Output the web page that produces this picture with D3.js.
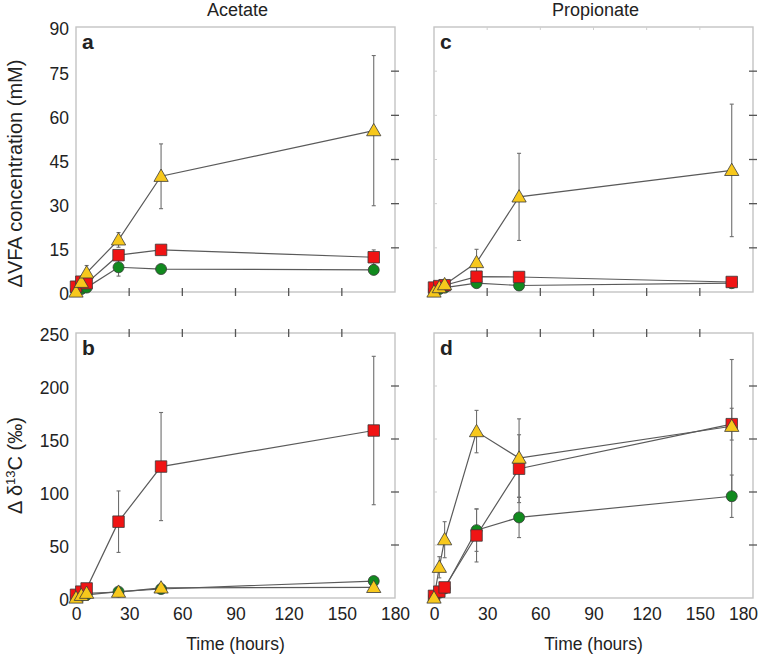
<!DOCTYPE html>
<html><head><meta charset="utf-8">
<script src="https://cdn.jsdelivr.net/npm/d3@7"></script>
<style>
html,body{margin:0;padding:0;background:#fff;}
text{font-family:"Liberation Sans",Arial,Helvetica,sans-serif;fill:#222;}
</style></head>
<body>
<svg id="chart" width="759" height="656"></svg>
<script>
// ---- data ----
const times = [0, 3, 6, 24, 48, 168];
const xTicks = [0, 30, 60, 90, 120, 150, 180];
const vfaTicks = [0, 15, 30, 45, 60, 75, 90];
const isoTicks = [0, 50, 100, 150, 200, 250];
const columnTitles = ["Acetate", "Propionate"];
const panelLetters = ["a", "b", "c", "d"];
const vfaLabel = "ΔVFA concentration (mM)";
const timeLabel = "Time (hours)";

// panel a: acetate ΔVFA
const aCircle = [0.5, 1, 1.5, 8.4, 7.8, 7.5];
const aCircleErr = [0, 0.5, 0.5, 3, 1, 1];
const aSquare = [1.8, 3.5, 3, 12.5, 14.3, 11.8];
const aSquareErr = [0.3, 0.5, 1, 1.5, 1, 2.5];
const aTriangle = [0, 3.3, 6.5, 17.7, 39.3, 54.8];
const aTriangleErr = [0, 0.5, 2.5, 2.5, 11, 25.5];
// panel b: acetate Δδ13C
const bCircle = [1, 2, 3, 6, 8.5, 16];
const bCircleErr = [0, 0.5, 0.5, 1, 1, 2];
const bSquare = [3, 6, 9, 72, 124, 158];
const bSquareErr = [1, 1, 2, 29, 51, 70];
const bTriangle = [0, 2.5, 4.5, 5.5, 9.5, 10];
const bTriangleErr = [0, 0.5, 0.5, 1, 1, 1];
// panel c: propionate ΔVFA
const cCircle = [0.5, 1, 1.5, 3, 2.2, 3];
const cCircleErr = [0, 0.2, 0.2, 0.5, 0.5, 0.5];
const cSquare = [1.5, 2, 2.3, 5.2, 5.1, 3.4];
const cSquareErr = [0.3, 0.3, 0.3, 0.8, 0.8, 0.8];
const cTriangle = [0, 1.5, 2.5, 10, 32.3, 41.3];
const cTriangleErr = [0, 0.3, 0.5, 4.5, 14.8, 22.5];
// panel d: propionate Δδ13C
const dCircle = [1, 5, 9, 64, 76, 96];
const dCircleErr = [0, 1, 2, 20, 19, 20];
const dSquare = [2, 6, 10, 59, 122, 164];
const dSquareErr = [0.5, 1, 2, 25, 32, 15];
const dTriangle = [0, 29, 55, 157, 132, 162];
const dTriangleErr = [0, 10, 17, 20, 37, 63];

// ---- layout ----
const svg = d3.select("#chart");
const PW = 319, PH = 265;
const colX = [76, 434];
const rowY = [27, 333];
const markerStyle = {
  circle:   {fill: "#118a1e", sym: d3.symbolCircle, size: 95},
  square:   {fill: "#f01414", sym: d3.symbolSquare, size: 132},
  triangle: {fill: "#f7c81c", sym: d3.symbolTriangle, size: 88}
};

const panels = [
  {letter: panelLetters[0], col: 0, row: 0, yMax: 90, yTicks: vfaTicks,
   series: [["circle", aCircle, aCircleErr], ["square", aSquare, aSquareErr], ["triangle", aTriangle, aTriangleErr]]},
  {letter: panelLetters[1], col: 0, row: 1, yMax: 250, yTicks: isoTicks,
   series: [["circle", bCircle, bCircleErr], ["square", bSquare, bSquareErr], ["triangle", bTriangle, bTriangleErr]]},
  {letter: panelLetters[2], col: 1, row: 0, yMax: 90, yTicks: vfaTicks,
   series: [["circle", cCircle, cCircleErr], ["square", cSquare, cSquareErr], ["triangle", cTriangle, cTriangleErr]]},
  {letter: panelLetters[3], col: 1, row: 1, yMax: 250, yTicks: isoTicks,
   series: [["circle", dCircle, dCircleErr], ["square", dSquare, dSquareErr], ["triangle", dTriangle, dTriangleErr]]}
];

panels.forEach(p => {
  const x0 = colX[p.col], y0 = rowY[p.row];
  const x = d3.scaleLinear().domain([0, 180]).range([x0, x0 + PW]);
  const y = d3.scaleLinear().domain([0, p.yMax]).range([y0 + PH, y0]);
  const g = svg.append("g");
  const innerX = xTicks.slice(1, -1);
  const innerY = p.yTicks.slice(1, -1);

  // frame
  g.append("rect").attr("x", x0).attr("y", y0).attr("width", PW).attr("height", PH)
    .attr("fill", "none").attr("stroke", "#c4c4c4").attr("stroke-width", 1.4);

  // faint ticks on left (right column) and on the far x edge
  if (p.col === 1) {
    g.selectAll(".fy").data(innerY).join("line")
      .attr("x1", x0).attr("x2", x0 + 3).attr("y1", d => y(d)).attr("y2", d => y(d))
      .attr("stroke", "#cfcfcf").attr("stroke-width", 1);
    if (p.row === 0) {
      g.selectAll(".fx").data(innerX).join("line")
        .attr("x1", d => x(d)).attr("x2", d => x(d)).attr("y1", y0).attr("y2", y0 + 3)
        .attr("stroke", "#cfcfcf").attr("stroke-width", 1);
    }
  }
  // dark crossing ticks: right edge
  g.selectAll(".ry").data(innerY).join("line")
    .attr("x1", x0 + PW - 4).attr("x2", x0 + PW + 4).attr("y1", d => y(d)).attr("y2", d => y(d))
    .attr("stroke", "#555").attr("stroke-width", 1.3);
  // dark crossing ticks: bottom (top row) or top (bottom row)
  const edgeY = p.row === 0 ? y0 + PH : y0;
  g.selectAll(".tx").data(innerX).join("line")
    .attr("x1", d => x(d)).attr("x2", d => x(d)).attr("y1", edgeY - 4).attr("y2", edgeY + 4)
    .attr("stroke", "#555").attr("stroke-width", 1.3);

  // axes labels
  if (p.col === 0) {
    const ax = g.append("g").attr("transform", `translate(${x0},0)`)
      .call(d3.axisLeft(y).tickValues(p.yTicks).tickSize(0).tickPadding(7));
    ax.select(".domain").remove();
    ax.selectAll("text").attr("font-size", 17.5).attr("font-family", "Liberation Sans, Arial, sans-serif")
      .attr("fill", "#222").attr("dy", "0.45em");
  }
  if (p.row === 1) {
    const ax = g.append("g").attr("transform", `translate(0,${y0 + PH})`)
      .call(d3.axisBottom(x).tickValues(xTicks).tickSize(0).tickPadding(10));
    ax.select(".domain").remove();
    ax.selectAll("text").attr("font-size", 17.5).attr("font-family", "Liberation Sans, Arial, sans-serif")
      .attr("fill", "#222");
    if (p.col === 1) {
      // keep the last label inside the picture
      ax.selectAll(".tick").filter(d => d === 180).select("text").attr("dx", "-10");
    }
    g.append("text").attr("x", x0 + PW / 2).attr("y", 650).attr("text-anchor", "middle")
      .attr("font-size", 17.5).text(timeLabel);
  }
  if (p.row === 0) {
    g.append("text").attr("x", x0 + PW / 2 + 2).attr("y", 16).attr("text-anchor", "middle")
      .attr("font-size", 18).text(columnTitles[p.col]);
  }

  // panel letter
  g.append("text").attr("x", x0 + 6).attr("y", y0 + 22).attr("font-size", 21)
    .attr("font-weight", "bold").attr("fill", "#000").text(p.letter);

  // lines
  const line = d3.line().x((d, i) => x(times[i])).y(d => y(d));
  p.series.forEach(([k, vals]) => {
    g.append("path").attr("d", line(vals)).attr("fill", "none")
      .attr("stroke", "#5a5a5a").attr("stroke-width", 1.2);
  });
  // error bars
  p.series.forEach(([k, vals, errs]) => {
    const eb = g.append("g").attr("stroke", "#6e6e6e").attr("stroke-width", 1.1);
    vals.forEach((v, i) => {
      if (!errs[i]) return;
      const cx = x(times[i]);
      const lo = y(Math.max(0, v - errs[i])), hi = y(v + errs[i]);
      eb.append("line").attr("x1", cx).attr("x2", cx).attr("y1", lo).attr("y2", hi);
      eb.append("line").attr("x1", cx - 2).attr("x2", cx + 2).attr("y1", lo).attr("y2", lo);
      eb.append("line").attr("x1", cx - 2).attr("x2", cx + 2).attr("y1", hi).attr("y2", hi);
    });
  });
  // markers
  p.series.forEach(([k, vals]) => {
    const st = markerStyle[k];
    const sym = d3.symbol().type(st.sym).size(st.size);
    g.selectAll(".m-" + k).data(vals).join("path")
      .attr("transform", (d, i) => `translate(${x(times[i])},${y(d) + (k === "triangle" ? 1 : 0)})`)
      .attr("d", sym).attr("fill", st.fill).attr("stroke", "#3a3a3a").attr("stroke-width", 0.8);
  });
});

// y-axis titles
svg.append("text").attr("transform", `translate(22,${rowY[0] + PH / 2 + 14}) rotate(-90)`)
  .attr("text-anchor", "middle").attr("font-size", 20).text(vfaLabel);
const isoT = svg.append("text").attr("transform", `translate(22,${rowY[1] + PH / 2}) rotate(-90)`)
  .attr("text-anchor", "middle").attr("font-size", 20);
isoT.append("tspan").text("Δ δ");
isoT.append("tspan").attr("font-size", 13).attr("dy", -7).text("13");
isoT.append("tspan").attr("dy", 7).text("C (‰)");
</script>
</body></html>
